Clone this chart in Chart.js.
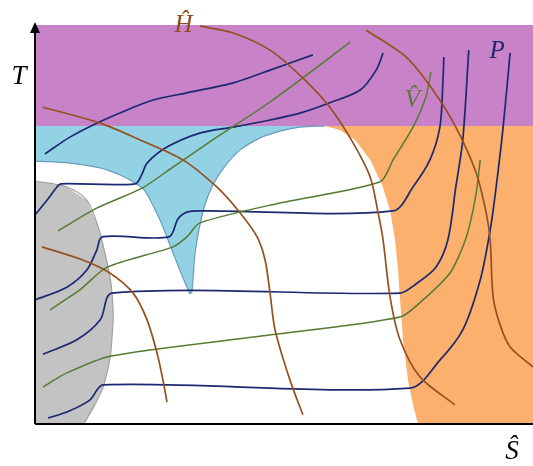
<!DOCTYPE html>
<html>
<head>
<meta charset="utf-8">
<script src="https://cdn.jsdelivr.net/npm/chart.js@4.4.1/dist/chart.umd.min.js"></script>
<style>
  html, body { margin: 0; padding: 0; background: #fff; }
  #chart { display: block; }
</style>
</head>
<body>
<canvas id="chart" width="533" height="466"></canvas>
<script>
// T–S diagram, entropy on x, temperature on y, both in arbitrary units 0..10
const tCrit = 7.47;

// phase region boundaries [S, T]
const vapourEdge = [[5.82,7.47],[6.12,7.37],[6.43,7.12],[6.73,6.62],[6.97,5.99],[7.13,5.36],[7.23,4.61],[7.29,3.86],[7.33,3.11],[7.39,2.11],[7.49,1.10],[7.59,0.48],[7.69,0]];
const liquidRight = [[5.82,7.47],[5.32,7.44],[4.92,7.34],[4.52,7.17],[4.12,6.87],[3.82,6.47],[3.57,5.99],[3.41,5.49],[3.29,4.86],[3.21,4.24],[3.15,3.31],[3.11,3.26]];
const liquidLeft = [[3.11,3.26],[2.95,3.73],[2.77,4.29],[2.51,5.11],[2.21,5.84],[2.01,6.04],[1.71,6.24],[1.31,6.42],[0.70,6.54],[0,6.59]];
const solidEdge = [[0,6.09],[0.64,5.94],[1.04,5.61],[1.27,4.94],[1.39,4.36],[1.45,4.04],[1.53,3.48],[1.57,2.78],[1.55,2.23],[1.51,1.68],[1.37,0.93],[1.20,0.48],[0.98,0]];

// isobars
const isobar1 = [[0.20,6.77],[0.70,7.19],[1.24,7.54],[1.85,7.87],[2.37,8.12],[3.05,8.30],[3.98,8.55],[4.72,8.87],[5.58,9.25]];
const isobar2 = [[0,5.24],[0.26,5.64],[0.44,5.94],[0.52,6.02],[2.01,6.02],[2.15,6.27],[2.25,6.54],[2.65,6.94],[3.31,7.29],[3.98,7.44],[4.72,7.62],[5.32,7.79],[5.92,8.05],[6.53,8.37],[6.85,8.87],[6.99,9.30]];
const isobar3 = [[0,3.11],[0.64,3.43],[1.04,3.86],[1.24,4.36],[1.35,4.69],[2.69,4.69],[2.87,5.14],[3.05,5.31],[3.35,5.34],[7.19,5.34],[7.59,5.94],[7.93,6.62],[8.13,7.44],[8.19,8.55],[8.21,9.20]];
const isobar4 = [[0.16,1.75],[0.84,2.11],[1.31,2.61],[1.55,3.28],[7.33,3.28],[7.65,3.51],[8.05,3.93],[8.29,4.61],[8.45,5.94],[8.59,7.12],[8.71,9.37]];
const isobar5 = [[0.26,0.15],[0.64,0.30],[1.10,0.60],[1.37,0.98],[7.53,0.90],[8.13,1.60],[8.59,2.36],[8.94,3.61],[9.14,4.86],[9.26,5.94],[9.40,7.44],[9.54,9.30]];

// isochores
const isochore1 = [[0.46,4.84],[1.24,5.41],[2.15,5.91],[2.77,6.44],[3.65,7.19],[4.72,8.07],[6.33,9.57]];
const isochore2 = [[0.30,2.86],[0.90,3.36],[1.45,3.93],[2.77,4.44],[3.05,4.69],[3.31,5.04],[4.92,5.54],[6.93,6.07],[7.19,6.62],[7.59,7.44],[7.85,8.20],[7.95,8.82]];
const isochore3 = [[0.16,0.93],[0.64,1.28],[1.51,1.70],[4.58,2.21],[7.33,2.68],[7.79,3.11],[8.33,3.78],[8.59,4.44],[8.73,4.99],[8.86,5.79],[8.94,6.62]];

// isenthalps
const isenthalp1 = [[0.16,7.94],[1.31,7.54],[2.11,7.12],[2.97,6.62],[3.65,5.94],[4.12,5.29],[4.46,4.69],[4.62,4.11],[4.72,3.28],[4.82,2.36],[5.12,1.10],[5.38,0.23]];
const isenthalp2 = [[3.31,9.97],[3.98,9.80],[4.72,9.37],[5.38,8.67],[5.92,7.94],[6.39,7.04],[6.73,6.19],[6.89,5.29],[6.99,4.61],[7.13,3.18],[7.33,2.11],[7.73,1.18],[8.43,0.48]];
const isenthalp3 = [[6.65,9.87],[7.45,9.20],[7.99,8.37],[8.45,7.44],[8.86,6.29],[9.06,5.29],[9.14,4.61],[9.20,3.18],[9.34,2.48],[9.54,1.93],[10,1.43]];
const isenthalp4 = [[0.14,4.44],[0.96,4.11],[1.51,3.78],[1.97,3.28],[2.25,2.61],[2.45,1.78],[2.57,1.10],[2.65,0.55]];

// curve labels [text, S, T, colour]
const curveLabels = [
    ["Ĥ", 2.98, 10.0, "#8e4a1e"],
    ["V\u0302", 7.58, 8.1, "#5d7a3a"],
    ["P", 9.28, 9.35, "#1c2870"]
];

const PURPLE = "#c882c8";
const BLUE = "#93d1e4";
const ORANGE = "#fbb06e";
const GREY = "#c3c3c3";
const NAVY = "#1c2870";
const GREEN = "#557a32";
const BROWN = "#94501f";

function pts(arr) {
    return arr.map(p => ({ x: p[0], y: p[1] }));
}

function region(arr, colour) {
    return {
        data: pts(arr),
        showLine: true,
        fill: "shape",
        backgroundColor: colour,
        borderColor: "transparent",
        borderWidth: 0,
        pointRadius: 0,
        tension: 0,
        order: 10
    };
}

function curve(arr, colour, width, tension) {
    return {
        data: pts(arr),
        showLine: true,
        fill: false,
        borderColor: colour,
        borderWidth: width,
        pointRadius: 0,
        tension: tension,
        order: 1
    };
}

// axes with arrow and the text labels
const annotate = {
    id: "annotate",
    afterDatasetsDraw(chart) {
        const ctx = chart.ctx;
        const a = chart.chartArea;
        const xs = chart.scales.x, ys = chart.scales.y;
        ctx.save();
        ctx.strokeStyle = "#000";
        ctx.lineWidth = 2;
        ctx.beginPath();
        ctx.moveTo(a.left, a.bottom);
        ctx.lineTo(a.right, a.bottom);
        ctx.moveTo(a.left, a.bottom);
        ctx.lineTo(a.left, a.top + 6);
        ctx.stroke();
        ctx.fillStyle = "#000";
        ctx.beginPath();
        ctx.moveTo(a.left, a.top - 3);
        ctx.lineTo(a.left - 5, a.top + 8);
        ctx.lineTo(a.left + 5, a.top + 8);
        ctx.closePath();
        ctx.fill();

        ctx.textAlign = "center";
        ctx.textBaseline = "middle";
        ctx.font = 'italic 27px "Liberation Serif"';
        ctx.fillText("T", 19, 77);
        ctx.fillText("Ŝ", 512, 452);

        curveLabels.forEach(l => {
            ctx.fillStyle = l[3];
            ctx.font = 'italic 25px "Liberation Serif"';
            ctx.fillText(l[0], xs.getPixelForValue(l[1]), ys.getPixelForValue(l[2]));
        });
        ctx.restore();
    }
};

new Chart(document.getElementById("chart"), {
    type: "scatter",
    data: {
        datasets: [
            region([[0,tCrit],[0,10],[10,10],[10,tCrit]], PURPLE),
            region(vapourEdge.concat([[10,0],[10,tCrit]]), ORANGE),
            region([[0,tCrit]].concat(liquidRight, liquidLeft), BLUE),
            region(solidEdge.concat([[0,0]]), GREY),
            Object.assign(curve(liquidRight, "#6b9cc0", 1.2, 0.3), { order: 5 }),
            Object.assign(curve(liquidLeft, "#6b9cc0", 1.2, 0.3), { order: 5 }),
            Object.assign(curve(solidEdge, "#a0a0a0", 1.2, 0.3), { order: 5 }),
            curve(isenthalp1, BROWN, 1.7, 0.3),
            curve(isenthalp2, BROWN, 1.7, 0.3),
            curve(isenthalp3, BROWN, 1.7, 0.3),
            curve(isenthalp4, BROWN, 1.7, 0.3),
            curve(isochore1, GREEN, 1.5, 0.25),
            curve(isochore2, GREEN, 1.5, 0.25),
            curve(isochore3, GREEN, 1.5, 0.25),
            curve(isobar1, NAVY, 1.7, 0.3),
            curve(isobar2, NAVY, 1.7, 0.3),
            curve(isobar3, NAVY, 1.7, 0.3),
            curve(isobar4, NAVY, 1.7, 0.3),
            curve(isobar5, NAVY, 1.7, 0.3)
        ]
    },
    options: {
        responsive: false,
        animation: false,
        events: [],
        layout: { padding: { left: 35, top: 25, right: 0, bottom: 42 } },
        plugins: {
            legend: { display: false },
            tooltip: { enabled: false }
        },
        scales: {
            x: { type: "linear", min: 0, max: 10, display: false },
            y: { type: "linear", min: 0, max: 10, display: false }
        }
    },
    plugins: [annotate]
});
</script>
</body>
</html>
